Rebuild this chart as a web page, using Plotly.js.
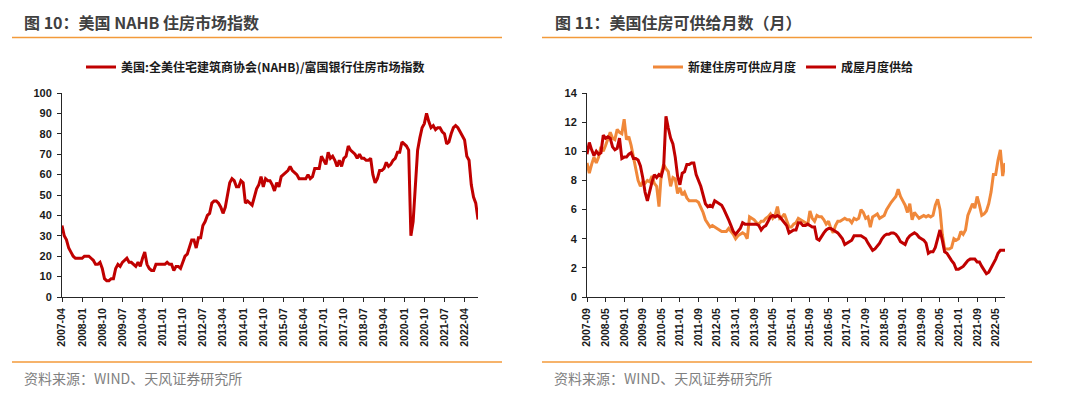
<!DOCTYPE html>
<html>
<head>
<meta charset="utf-8">
<script src="https://cdn.plot.ly/plotly-3.0.1.min.js"></script>
<style>
  html, body { margin: 0; padding: 0; background: #ffffff; }
  #chart { width: 1080px; height: 394px; }
</style>
</head>
<body>
<div id="chart"></div>
<script>
// ---------- Data ----------
// Left chart: NAHB/Wells Fargo housing market index, monthly 2007-04 .. 2022-10
const nahbStart = [2007, 4];
const nahbIndex = [
  35,30,28,24,22,20,19,19,19,
  19,20,20,20,19,18,16,16,17,14,9,8,
  8,9,9,14,16,15,17,18,19,17,17,16,
  15,17,15,19,22,16,14,13,13,16,16,16,
  16,16,17,16,16,13,15,15,14,17,20,21,
  25,28,28,24,29,29,35,37,40,41,46,47,
  47,46,44,41,44,51,56,58,57,54,54,57,
  56,46,47,46,45,49,53,55,59,54,58,57,
  57,55,52,56,54,59,60,61,62,64,62,61,
  60,58,58,58,58,60,58,59,63,63,63,69,
  67,65,71,68,69,67,64,67,64,68,69,74,
  72,71,70,68,70,68,68,67,67,68,60,56,
  58,62,62,63,66,64,65,67,68,71,71,76,
  75,74,72,30,37,58,72,78,83,85,90,86,
  83,84,82,83,83,81,80,75,76,80,83,84,
  83,81,79,77,69,67,55,49,46,38
];
const nahbTicks = ['2007-04','2008-01','2008-10','2009-07','2010-04','2011-01','2011-10','2012-07',
  '2013-04','2014-01','2014-10','2015-07','2016-04','2017-01','2017-10','2018-07','2019-04',
  '2020-01','2020-10','2021-07','2022-04'];

// Right chart: months' supply, monthly 2007-09 .. 2022-09
const supplyStart = [2007, 9];
const newHomeSupply = [
  9.2,8.5,9.1,9.6,9.2,9.6,10.3,10.0,10.4,10.8,
  11.3,10.9,10.8,11.5,11.3,11.2,12.2,10.8,11.0,10.4,
  9.5,8.8,8.0,7.6,7.9,7.8,8.0,7.9,8.3,7.8,
  7.6,6.2,8.5,9.1,8.8,8.6,7.6,8.2,8.1,7.1,
  7.5,7.0,7.2,6.8,6.6,6.6,6.6,6.6,6.5,6.2,
  5.8,5.3,5.0,4.8,4.9,4.8,4.7,4.6,4.5,4.5,
  4.5,4.7,4.5,4.3,4.0,4.2,4.3,4.4,4.3,4.0,
  5.5,5.4,5.3,5.1,5.0,5.2,5.2,5.4,5.5,5.7,
  5.4,5.6,6.2,5.4,5.5,5.7,5.3,4.8,4.8,5.0,
  5.1,5.4,5.3,5.2,5.1,4.9,5.9,5.4,5.2,5.6,
  5.5,5.5,5.3,5.0,5.2,4.7,4.4,4.9,5.2,5.2,
  5.3,5.4,5.3,5.3,5.1,5.4,5.3,5.4,6.0,5.8,
  5.4,5.5,4.8,5.5,5.6,5.7,5.4,5.5,5.6,6.0,
  6.3,6.5,6.7,6.9,7.4,6.9,6.6,6.3,5.8,6.4,
  5.3,5.8,5.6,5.4,5.5,5.6,5.5,5.6,5.5,5.6,
  6.3,6.7,6.0,4.3,3.3,3.3,3.3,3.4,4.0,3.9,
  4.0,4.5,4.3,4.6,5.6,6.0,6.4,6.1,6.9,6.3,
  5.6,5.7,5.9,6.4,7.2,8.4,8.4,9.4,10.1,8.3,
  9.2
];
const existingSupply = [
  9.8,10.6,10.1,9.7,10.0,9.8,9.9,11.1,10.9,11.0,
  10.9,10.3,10.1,10.2,10.9,9.5,9.6,9.6,9.8,9.9,
  9.5,9.5,9.4,9.0,8.2,7.2,6.6,7.3,7.9,8.4,
  8.2,8.4,8.3,8.9,12.4,11.6,10.9,10.5,9.6,8.3,
  7.7,8.5,8.6,9.1,9.1,9.2,9.2,8.4,8.0,7.6,
  7.0,6.4,6.2,6.3,6.2,6.6,6.5,6.4,6.3,6.0,
  5.7,5.3,4.9,4.5,4.3,4.5,4.7,5.1,5.0,5.0,
  5.0,5.0,5.0,5.0,4.9,4.6,4.8,4.9,5.2,5.5,
  5.6,5.5,5.6,5.5,5.3,5.1,4.9,4.4,4.5,4.6,
  4.6,5.1,5.1,4.9,4.9,5.0,4.9,4.8,4.8,4.0,
  3.9,4.2,4.4,4.6,4.7,4.7,4.6,4.5,4.4,4.2,
  4.0,3.6,3.7,3.8,3.9,4.2,4.2,4.2,4.2,4.1,
  4.0,3.7,3.4,3.2,3.3,3.5,3.7,4.0,4.2,4.3,
  4.3,4.4,4.4,4.3,4.1,3.8,3.7,3.6,4.0,4.2,
  4.3,4.4,4.3,4.1,4.0,3.9,3.7,3.0,3.1,3.1,
  3.4,4.0,4.6,3.9,3.1,3.0,2.7,2.5,2.3,1.9,
  1.9,2.0,2.1,2.3,2.5,2.6,2.6,2.6,2.4,2.4,
  2.1,1.8,1.6,1.7,2.0,2.2,2.6,3.0,3.2,3.2,
  3.2
];
const supplyTicks = ['2007-09','2008-05','2009-01','2009-09','2010-05','2011-01','2011-09','2012-05',
  '2013-01','2013-09','2014-05','2015-01','2015-09','2016-05','2017-01','2017-09','2018-05',
  '2019-01','2019-09','2020-05','2021-01','2021-09','2022-05'];

const nameNahb = '美国:全美住宅建筑商协会(NAHB)/富国银行住房市场指数';
const nameNew = '新建住房可供应月度';
const nameExisting = '成屋月度供给';

// ---------- Helpers ----------
function monthLabels(start, n) {
  const out = [];
  let y = start[0], m = start[1];
  for (let i = 0; i < n; i++) {
    out.push(y + '-' + (m < 10 ? '0' + m : '' + m));
    m++; if (m > 12) { m = 1; y++; }
  }
  return out;
}
const nahbMonths = monthLabels(nahbStart, nahbIndex.length);
const supplyMonths = monthLabels(supplyStart, newHomeSupply.length);

const W = 1080, H = 394;
const px = v => v / W;
const py = v => 1 - v / H;

const RED = '#C00000';
const ORANGE = '#F0883A';
const RULE = '#F39A3A';
const AX = '#262626';
const tickFont = { family: 'Liberation Sans, Arial, sans-serif', size: 11, color: '#1a1a1a', weight: 'bold' };
const xTickFont = { family: 'Liberation Sans, Arial, sans-serif', size: 10.5, color: '#1a1a1a', weight: 'bold' };
const cjk = '"Noto Sans CJK SC", "Noto Sans", sans-serif';

const yDomain = [py(297), py(93)];

function xAxis(domain, cats, ticks, anchor) {
  return {
    domain: domain, anchor: anchor, type: 'category',
    categoryorder: 'array', categoryarray: cats,
    range: [0, cats.length - 1],
    tickmode: 'array', tickvals: ticks, ticktext: ticks,
    tickangle: -90, tickfont: xTickFont,
    ticks: 'outside', ticklen: 4, tickcolor: AX, tickwidth: 1,
    showline: true, linecolor: AX, linewidth: 1,
    showgrid: false, zeroline: false, automargin: false,
    ticklabelstandoff: 2, fixedrange: true
  };
}
function yAxis(range, dtick, anchor) {
  return {
    domain: yDomain, anchor: anchor, range: range, dtick: dtick,
    tickfont: tickFont, ticks: 'outside', ticklen: 4, tickcolor: AX, tickwidth: 1,
    showline: true, linecolor: AX, linewidth: 1,
    showgrid: false, zeroline: false, automargin: false,
    ticklabelstandoff: 3, fixedrange: true
  };
}

const traces = [
  { type: 'scatter', mode: 'lines', x: nahbMonths, y: nahbIndex, name: nameNahb,
    xaxis: 'x', yaxis: 'y', legend: 'legend',
    line: { color: RED, width: 3 } },
  { type: 'scatter', mode: 'lines', x: supplyMonths, y: newHomeSupply, name: nameNew,
    xaxis: 'x2', yaxis: 'y2', legend: 'legend2',
    line: { color: ORANGE, width: 3 } },
  { type: 'scatter', mode: 'lines', x: supplyMonths, y: existingSupply, name: nameExisting,
    xaxis: 'x2', yaxis: 'y2', legend: 'legend2',
    line: { color: RED, width: 3 } }
];

const legendFont = { family: cjk, size: 12, color: '#1a1a1a', weight: 'bold' };

const layout = {
  width: W, height: H, autosize: false,
  margin: { l: 0, r: 0, t: 0, b: 0, pad: 0 },
  paper_bgcolor: '#ffffff', plot_bgcolor: '#ffffff',
  showlegend: true,
  xaxis: xAxis([px(62), px(478)], nahbMonths, nahbTicks, 'y'),
  yaxis: yAxis([0, 100], 10, 'x'),
  xaxis2: xAxis([px(587), px(1005)], supplyMonths, supplyTicks, 'y2'),
  yaxis2: yAxis([0, 14], 2, 'x2'),
  legend: {
    orientation: 'h', x: px(81), xanchor: 'left', y: py(67), yanchor: 'middle',
    font: legendFont, bgcolor: 'rgba(0,0,0,0)', borderwidth: 0, itemwidth: 30
  },
  legend2: {
    orientation: 'h', x: px(648), xanchor: 'left', y: py(67), yanchor: 'middle',
    font: legendFont, bgcolor: 'rgba(0,0,0,0)', borderwidth: 0, itemwidth: 30
  },
  shapes: [
    { type: 'line', xref: 'paper', yref: 'paper', x0: px(12), x1: px(502), y0: py(37.5), y1: py(37.5), line: { color: RULE, width: 1.5 } },
    { type: 'line', xref: 'paper', yref: 'paper', x0: px(542), x1: px(1032), y0: py(37.5), y1: py(37.5), line: { color: RULE, width: 1.5 } },
    { type: 'line', xref: 'paper', yref: 'paper', x0: px(12), x1: px(502), y0: py(362), y1: py(362), line: { color: RULE, width: 1.5 } },
    { type: 'line', xref: 'paper', yref: 'paper', x0: px(542), x1: px(1032), y0: py(362), y1: py(362), line: { color: RULE, width: 1.5 } }
  ],
  annotations: [
    { text: '图 10：美国 NAHB 住房市场指数', xref: 'paper', yref: 'paper', x: px(22), y: py(22),
      xanchor: 'left', yanchor: 'middle', showarrow: false,
      font: { family: cjk, size: 16, color: '#404040', weight: 'bold' } },
    { text: '图 11：美国住房可供给月数（月）', xref: 'paper', yref: 'paper', x: px(553), y: py(22),
      xanchor: 'left', yanchor: 'middle', showarrow: false,
      font: { family: cjk, size: 16, color: '#404040', weight: 'bold' } },
    { text: '资料来源：WIND、天风证券研究所', xref: 'paper', yref: 'paper', x: px(22), y: py(378),
      xanchor: 'left', yanchor: 'middle', showarrow: false,
      font: { family: cjk, size: 14, color: '#7f7f7f' } },
    { text: '资料来源：WIND、天风证券研究所', xref: 'paper', yref: 'paper', x: px(552), y: py(378),
      xanchor: 'left', yanchor: 'middle', showarrow: false,
      font: { family: cjk, size: 14, color: '#7f7f7f' } }
  ]
};

Plotly.newPlot('chart', traces, layout, { displayModeBar: false, staticPlot: true });
</script>
</body>
</html>
